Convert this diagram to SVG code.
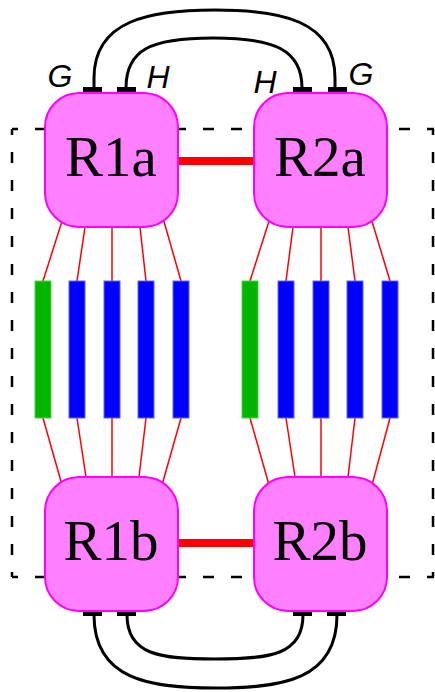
<svg xmlns="http://www.w3.org/2000/svg" width="435" height="692" viewBox="0 0 435 692">
<style>
.router{fill:#ff80ff;stroke:#ff00ff;stroke-width:2}
.rlabel{font-family:"Liberation Serif","Times New Roman",serif;font-size:57px;fill:#000;text-anchor:middle}
.plabel{font-family:"Liberation Sans",Arial,sans-serif;font-size:32px;font-style:italic;fill:#000;text-anchor:middle}
.green{fill:#00b400;stroke:#50d050;stroke-width:1}
.blue{fill:#0000ff;stroke:#6060ff;stroke-width:1}
.wire{stroke:#ff0000;stroke-width:1.5;fill:none}
.trunk{stroke:#ff0000;stroke-width:8;fill:none}
.arc{stroke:#000;stroke-width:3;fill:none}
.port{fill:#000}
.dash{stroke:#000;stroke-width:2.5;stroke-dasharray:11 17;stroke-dashoffset:5;fill:none}
</style>
<g id="frame">
<line class="dash" x1="12" y1="129" x2="434" y2="129"/>
<line class="dash" x1="12" y1="577" x2="434" y2="577"/>
<line class="dash" x1="12" y1="129" x2="12" y2="577"/>
<line class="dash" x1="433" y1="129" x2="433" y2="577"/>
</g>
<g id="connectors">
<line class="trunk" x1="178" y1="161" x2="254" y2="161"/>
<line class="trunk" x1="178" y1="543" x2="254" y2="543"/>
<line class="wire" x1="63" y1="218" x2="43" y2="281"/>
<line class="wire" x1="85" y1="227" x2="77" y2="281"/>
<line class="wire" x1="112" y1="227" x2="112" y2="281"/>
<line class="wire" x1="140" y1="227" x2="146" y2="281"/>
<line class="wire" x1="163" y1="218" x2="181" y2="281"/>
<line class="wire" x1="62" y1="485" x2="43" y2="418"/>
<line class="wire" x1="86" y1="477" x2="77" y2="418"/>
<line class="wire" x1="112" y1="477" x2="112" y2="418"/>
<line class="wire" x1="139" y1="477" x2="146" y2="418"/>
<line class="wire" x1="162" y1="485" x2="181" y2="418"/>
<line class="wire" x1="270" y1="218" x2="250" y2="281"/>
<line class="wire" x1="293" y1="227" x2="286" y2="281"/>
<line class="wire" x1="321" y1="227" x2="321" y2="281"/>
<line class="wire" x1="348" y1="227" x2="355" y2="281"/>
<line class="wire" x1="371" y1="218" x2="390" y2="281"/>
<line class="wire" x1="269" y1="485" x2="250" y2="418"/>
<line class="wire" x1="295" y1="477" x2="286" y2="418"/>
<line class="wire" x1="321" y1="477" x2="321" y2="418"/>
<line class="wire" x1="348" y1="477" x2="355" y2="418"/>
<line class="wire" x1="372" y1="485" x2="390" y2="418"/>
<path class="arc" d="M94,88 V78 C94,20 150,10 215,10 C280,10 335,20 335,78 V88"/>
<path class="arc" d="M126,88 C126,50 150,38 213,38 C275,38 302,50 302,88"/>
<path class="arc" d="M94,615 C94,680 150,688 216,688 C282,688 337,680 337,615"/>
<path class="arc" d="M127,615 C127,655 160,659 215,659 C270,659 303,655 303,615"/>
<rect class="port" x="83" y="87" width="19" height="5"/>
<rect class="port" x="117" y="87" width="19" height="5"/>
<rect class="port" x="293" y="87" width="19" height="5"/>
<rect class="port" x="328" y="87" width="19" height="5"/>
<rect class="port" x="83" y="611" width="19" height="5"/>
<rect class="port" x="117" y="611" width="19" height="5"/>
<rect class="port" x="293" y="611" width="19" height="5"/>
<rect class="port" x="327" y="611" width="19" height="5"/>
<text class="plabel" x="60" y="87">G</text>
<text class="plabel" x="158" y="88">H</text>
<text class="plabel" x="265" y="93">H</text>
<text class="plabel" x="361" y="85">G</text>
</g>
<g id="R1a"><rect class="router" x="45" y="93" width="133" height="134" rx="34"/><text class="rlabel" x="111" y="176">R1a</text></g>
<g id="R2a"><rect class="router" x="254" y="93" width="133" height="134" rx="34"/><text class="rlabel" x="320" y="176">R2a</text></g>
<g id="R1b"><rect class="router" x="45" y="477" width="133" height="134" rx="34"/><text class="rlabel" x="111" y="560">R1b</text></g>
<g id="R2b"><rect class="router" x="254" y="477" width="133" height="134" rx="34"/><text class="rlabel" x="320" y="560">R2b</text></g>
<g id="L1"><rect class="green" x="35" y="281" width="16" height="137"/></g>
<g id="L2"><rect class="blue" x="69" y="281" width="16" height="137"/></g>
<g id="L3"><rect class="blue" x="104" y="281" width="16" height="137"/></g>
<g id="L4"><rect class="blue" x="138" y="281" width="16" height="137"/></g>
<g id="L5"><rect class="blue" x="173" y="281" width="16" height="137"/></g>
<g id="L6"><rect class="green" x="242" y="281" width="16" height="137"/></g>
<g id="L7"><rect class="blue" x="278" y="281" width="16" height="137"/></g>
<g id="L8"><rect class="blue" x="313" y="281" width="16" height="137"/></g>
<g id="L9"><rect class="blue" x="347" y="281" width="16" height="137"/></g>
<g id="L10"><rect class="blue" x="382" y="281" width="16" height="137"/></g>
</svg>
